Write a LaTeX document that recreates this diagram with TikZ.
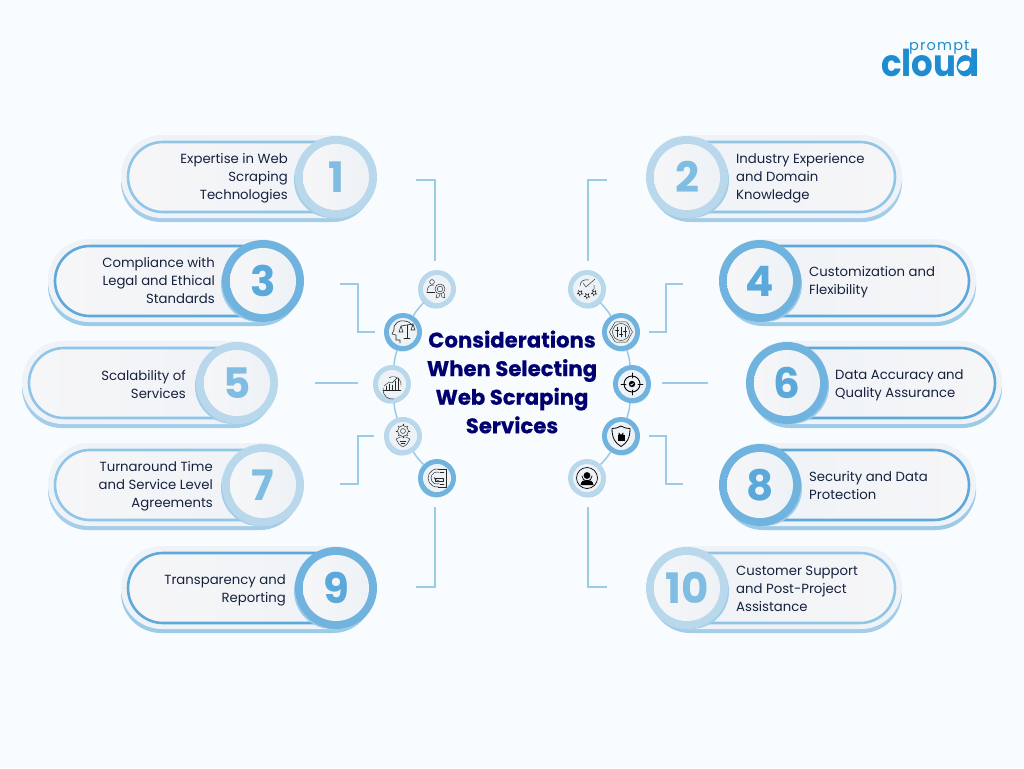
\documentclass[tikz,border=0pt]{standalone}
\usepackage{fontspec}
\setmainfont{Poppins}
\usetikzlibrary{calc}
\definecolor{bgc}{HTML}{F8FCFF}
\definecolor{lring}{HTML}{B9D8EC}
\definecolor{lshade}{HTML}{A3CDE8}
\definecolor{lnum}{HTML}{7FBDE3}
\definecolor{lline}{HTML}{8FC6E7}
\definecolor{dring}{HTML}{70B3DE}
\definecolor{dshade}{HTML}{9CCBE8}
\definecolor{dnum}{HTML}{5AA9DA}
\definecolor{dline}{HTML}{5EA9D9}
\definecolor{halo}{HTML}{EFF3F7}
\definecolor{pillfill}{HTML}{F6F6F8}
\definecolor{pillfillb}{HTML}{EEF2F6}
\definecolor{discfill}{HTML}{EDF2F6}
\definecolor{inktext}{HTML}{16213E}
\definecolor{navy}{HTML}{00006E}
\definecolor{conn}{HTML}{9CCBE6}
\definecolor{logob}{HTML}{1F8CCF}
\tikzset{
  txt/.style={font=\fontsize{13.25}{18}\selectfont,text=inktext,inner sep=0pt},
  numtxt/.style={font=\fontsize{42}{42}\bfseries\selectfont,inner sep=0pt},
  bigring/.style={circle,minimum size=82pt,inner sep=0pt},
  bigdisc/.style={circle,minimum size=66pt,inner sep=0pt,left color=pillfill,right color=discfill},
  smring/.style={circle,minimum size=38pt,inner sep=0pt},
  smdisc/.style={circle,minimum size=28pt,inner sep=0pt,fill=discfill},
  linkc/.style={draw=conn,line width=1.1pt},
  arcc/.style={draw=conn,line width=1.5pt},
  ico/.style={draw=black!85,line width=.45pt,line cap=round,line join=round},
}
\newcommand{\tadj}{1}
% #1 id, #2 outline left x, #3 circle x, #4 cy, #5 number, #6 text, #7 text right x, #8 l/d
\newcommand{\leftpill}[8]{
  \fill[#8shade,rounded corners=40pt] ({#2-7},{#4-38}) rectangle ({#3+37},{#4+45});
  \fill[halo,rounded corners=41pt] ({#2-7},{#4-42}) rectangle ({#3+40},{#4+41});
  \draw[#8line,line width=2.6pt,left color=pillfill,right color=pillfillb,rounded corners=35pt] (#2,{#4-35}) rectangle ({#3+30},{#4+35});
  \fill[#8shade] ({#3-4},{#4+3}) circle (38);
  \node[bigring,fill=#8ring] (ring#1) at (#3,#4) {};
  \node[bigdisc] (disc#1) at (ring#1) {};
  \node[numtxt,text=#8num] (num#1) at (ring#1) {#5};
  \node[txt,align=right,anchor=east] (t#1) at (#7,{#4+\tadj}) {#6};
}
\newcommand{\rightpill}[8]{
  \fill[#8shade,rounded corners=40pt] ({#3-37},{#4-38}) rectangle ({#2+7},{#4+45});
  \fill[halo,rounded corners=41pt] ({#3-40},{#4-42}) rectangle ({#2+7},{#4+41});
  \draw[#8line,line width=2.6pt,left color=pillfillb,right color=pillfill,rounded corners=35pt] ({#3-30},{#4-35}) rectangle (#2,{#4+35});
  \fill[#8shade] ({#3+4},{#4+3}) circle (38);
  \node[bigring,fill=#8ring] (ring#1) at (#3,#4) {};
  \node[bigdisc] (disc#1) at (ring#1) {};
  \node[numtxt,text=#8num] (num#1) at (ring#1) {#5};
  \node[txt,align=left,anchor=west] (t#1) at (#7,{#4+\tadj}) {#6};
}
% #1 id #2 x #3 y #4 l/d #5 shade offset
\newcommand{\smallc}[5]{
  \fill[#4shade] ({#2+#5},{#3+2}) circle (17.5);
  \node[smring,fill=#4ring] (s#1) at (#2,#3) {};
  \node[smdisc] (d#1) at (s#1) {};
}
\begin{document}
\begin{tikzpicture}[x=1pt,y=-1pt]
\fill[bgc] (0,0) rectangle (1024,768);
\useasboundingbox (0,0) rectangle (1024,768);

\leftpill{1}{128}{336}{177}{1}{Expertise in Web\\Scraping\\Technologies}{288}{l}
\renewcommand{\tadj}{0}
\leftpill{3}{55}{263}{281}{3}{Compliance with\\Legal and Ethical\\Standards}{215}{d}
\renewcommand{\tadj}{1}
\leftpill{5}{29}{237}{383}{5}{Scalability of\\Services}{186}{l}
\leftpill{7}{55}{263}{485}{7}{Turnaround Time\\and Service Level\\Agreements}{213}{l}
\renewcommand{\tadj}{2}
\leftpill{9}{128}{336}{588}{9}{Transparency and\\Reporting}{286}{d}
\renewcommand{\tadj}{1}
\rightpill{2}{895}{687}{177}{2}{Industry Experience\\and Domain\\Knowledge}{736}{l}
\rightpill{4}{969}{760}{281}{4}{Customization and\\Flexibility}{809}{d}
\renewcommand{\tadj}{2}
\rightpill{6}{995}{787}{383}{6}{Data Accuracy and\\Quality Assurance}{835}{d}
\renewcommand{\tadj}{1}
\rightpill{8}{969}{760}{485}{8}{Security and Data\\Protection}{809}{d}
\rightpill{10}{895}{687}{588}{10}{Customer Support\\and Post-Project\\Assistance}{736}{l}

% link end points
\coordinate (a1) at (416,180); \coordinate (b1) at (435,180); \coordinate (c1) at (435,261);
\coordinate (a3) at (340,284); \coordinate (b3) at (358,284); \coordinate (c3) at (358,332); \coordinate (e3) at (375,332);
\coordinate (a5) at (315,383); \coordinate (c5) at (358,383);
\coordinate (a7) at (340,484); \coordinate (b7) at (358,484); \coordinate (c7) at (358,436); \coordinate (e7) at (374,436);
\coordinate (a9) at (416,587); \coordinate (b9) at (435,587); \coordinate (c9) at (435,507);
\coordinate (a2) at (607,180); \coordinate (b2) at (588,180); \coordinate (c2) at (588,261);
\coordinate (a4) at (683,284); \coordinate (b4) at (666,284); \coordinate (c4) at (666,332); \coordinate (e4) at (649,332);
\coordinate (a6) at (708,383); \coordinate (c6) at (662,383);
\coordinate (a8) at (683,484); \coordinate (b8) at (666,484); \coordinate (c8) at (666,436); \coordinate (e8) at (649,436);
\coordinate (a10) at (607,587); \coordinate (b10) at (588,587); \coordinate (c10) at (588,507);
\draw[linkc] (a1) -- (b1) -- (c1);
\draw[linkc] (a3) -- (b3) -- (c3) -- (e3);
\draw[linkc] (a5) -- (c5);
\draw[linkc] (a7) -- (b7) -- (c7) -- (e7);
\draw[linkc] (a9) -- (b9) -- (c9);
\draw[linkc] (a2) -- (b2) -- (c2);
\draw[linkc] (a4) -- (b4) -- (c4) -- (e4);
\draw[linkc] (a6) -- (c6);
\draw[linkc] (a8) -- (b8) -- (c8) -- (e8);
\draw[linkc] (a10) -- (b10) -- (c10);

% small circles
\smallc{1}{437}{289}{l}{-1}
\smallc{3}{403}{332}{d}{-1}
\smallc{5}{392}{384}{l}{-1}
\smallc{7}{403}{436}{l}{-1}
\smallc{9}{437}{478}{d}{-1}
\smallc{2}{587}{289}{l}{1}
\smallc{4}{621}{332}{d}{1}
\smallc{6}{632}{384}{d}{1}
\smallc{8}{621}{436}{d}{1}
\smallc{10}{587}{478}{l}{1}

\draw[arcc] (s1) to[bend right=6] (s3);
\draw[arcc] (s3) to[bend right=6] (s5);
\draw[arcc] (s5) to[bend right=6] (s7);
\draw[arcc] (s7) to[bend right=6] (s9);
\draw[arcc] (s2) to[bend left=6] (s4);
\draw[arcc] (s4) to[bend left=6] (s6);
\draw[arcc] (s6) to[bend left=6] (s8);
\draw[arcc] (s8) to[bend left=6] (s10);

% icon 1: person with award
\begin{scope}[shift={(437,289)},ico]
  \draw (-5,-7) circle (2.4);
  \draw (-10,3) .. controls (-10,-3) and (-7,-4) .. (-3,-4);
  \draw (-10,3) -- (-2,3);
  \draw (3,0) circle (5); \draw (3,0) circle (2.8);
  \draw (0,5) -- (-1,9) -- (2,8) -- (3,5); \draw (4,5) -- (5,8) -- (8,9) -- (7,4);
\end{scope}
% icon 3: head with scales
\begin{scope}[shift={(403,332)},ico,line width=.6pt]
  \draw (-3,11) -- (-3,8) -- (-7,8) -- (-7,3) -- (-11,2) -- (-9,-2) .. controls (-10,-9) and (-3,-12.5) .. (2,-11) .. controls (6,-10.5) and (9,-8) .. (10,-5);
  \draw (-2,-6) -- (10,-8); \draw (4,-7) -- (4,6); \draw (1,6) -- (7,6);
  \draw (-2,-6) -- (-4,0) -- (0,0) -- cycle;
  \draw (10,-8) -- (8,-2) -- (12,-2) -- cycle;
\end{scope}
% icon 5: growth chart
\begin{scope}[shift={(392,384)},ico]
  \draw (-6,6) -- (-6,2) (-3,6) -- (-3,0) (0,6) -- (0,1) (3,6) -- (3,-3) (6,6) -- (6,-6);
  \draw (-8,2) -- (-3,-2) -- (0,-1) -- (5,-6);
  \draw (-9,6) -- (9,6);
  \draw (-9,4) arc (190:80:9.5);
  \draw (9,2) arc (10:-120:8);
\end{scope}
% icon 7: gear and handshake
\begin{scope}[shift={(403,436)},ico]
  \draw (0,-5) circle (5.5); \draw (0,-5) circle (2.5);
  \foreach \a in {0,45,...,315} \draw ($(0,-5)+(\a:5.5)$) -- ($(0,-5)+(\a:7)$);
  \draw (-7,3) -- (-3,1) -- (3,1) -- (7,3) -- (4,8) -- (0,11) -- (-4,8) -- cycle;
  \draw (-3,5) -- (3,5) (-2,7) -- (2,7);
\end{scope}
% icon 9: maze document
\begin{scope}[shift={(437,478)},ico]
  \draw (-9,0) arc (180:80:9); \draw (-9,0) arc (180:280:9);
  \draw (-6,0) arc (180:70:6); \draw (-6,0) arc (180:290:6);
  \draw (-3,-1) arc (180:60:3.5);
  \draw (1,-9) -- (9,-9) -- (9,9) -- (1,9);
  \draw (-2,0) rectangle (6,3);
  \draw (3,-6) -- (7,-6) (3,6) -- (7,6);
\end{scope}
% icon 2: check and stars
\begin{scope}[shift={(587,289)},ico]
  \draw (-4,-6) -- (-1,-2) -- (8,-10);
  \draw (-7,-3) .. controls (-7,-8) and (-3,-10) .. (2,-9);
  \draw (7,-4) .. controls (8,-1) and (7,1) .. (5,2);
  \foreach \p in {(-7,4),(7,4),(0,7)}
    \draw[shift={\p}] (90:3.2) -- (162:1.3) -- (162:3.2) -- (234:1.3) -- (234:3.2) -- (306:1.3) -- (306:3.2) -- (18:1.3) -- (18:3.2) -- (90:1.3) -- cycle;
\end{scope}
% icon 4: gear with sliders
\begin{scope}[shift={(621,332)},ico]
  \draw (0,0) circle (8.5);
  \draw plot[samples at={0,30,...,360},smooth] (\x:{11.5-(mod(\x,60)>0?1.5:0)});
  \draw (-4,-5) -- (-4,5) (0,-5) -- (0,5) (4,-5) -- (4,5);
  \draw[line width=1pt] (-5.5,-2) -- (-2.5,-2) (-1.5,2) -- (1.5,2) (2.5,-1) -- (5.5,-1);
\end{scope}
% icon 6: target
\begin{scope}[shift={(632,384)},ico,line width=.9pt,draw=black]
  \draw (0,0) circle (8);
  \draw (0,-11) -- (0,-6) (0,11) -- (0,6) (-11,0) -- (-6,0) (11,0) -- (6,0);
  \fill[black] (0,0) circle (3.2);
  \draw[white,line width=.6pt] (-1.4,0) -- (-.3,1.1) -- (1.5,-1);
\end{scope}
% icon 8: shield and lock
\begin{scope}[shift={(621,436)},ico,line width=.8pt,draw=black]
  \draw (0,-10) .. controls (3,-8) and (6,-7.5) .. (9,-7.5) .. controls (9,2) and (6,7) .. (0,10.5) .. controls (-6,7) and (-9,2) .. (-9,-7.5) .. controls (-6,-7.5) and (-3,-8) .. cycle;
  \fill[black] (-3.5,-1) rectangle (3.5,5);
  \draw (-2,-1) -- (-2,-3) arc (180:0:2) -- (2,-1);
\end{scope}
% icon 10: support agent
\begin{scope}[shift={(587,478)},ico,line width=.7pt,draw=black]
  \draw (0,0) circle (10.5);
  \fill[black] (0,-2.5) circle (3.4);
  \fill[black] (-6.5,7) .. controls (-6,2.5) and (-3,2) .. (0,2) .. controls (3,2) and (6,2.5) .. (6.5,7) -- cycle;
  \draw (-5,-2) arc (180:0:5);
\end{scope}

% title
\node[font=\fontsize{21.2}{28.6}\bfseries\addfontfeature{FakeBold=0.4}\selectfont,text=navy,align=center,inner sep=0pt] (title) at (512,382) {Considerations\\When Selecting\\Web Scraping\\Services};

% logo
\node[font=\fontsize{37}{37}\bfseries\addfontfeature{FakeStretch=0.92}\selectfont,text=logob,inner sep=0pt,anchor=base west] (logocloud) at (881,76) {cloud};
\fill[logob] (964,66) circle (7.5);
\fill[white] (958,68) .. controls (958,63) and (963,60) .. (969,61) .. controls (971,64) and (969,70) .. (964,71) .. controls (961,71) and (959,70) .. (958,68) -- cycle;
\node[font=\fontsize{14.5}{15}\addfontfeature{LetterSpace=8}\selectfont,text=logob,inner sep=0pt,anchor=base west] (logoprompt) at (909,51) {prompt};
\end{tikzpicture}
\end{document}
